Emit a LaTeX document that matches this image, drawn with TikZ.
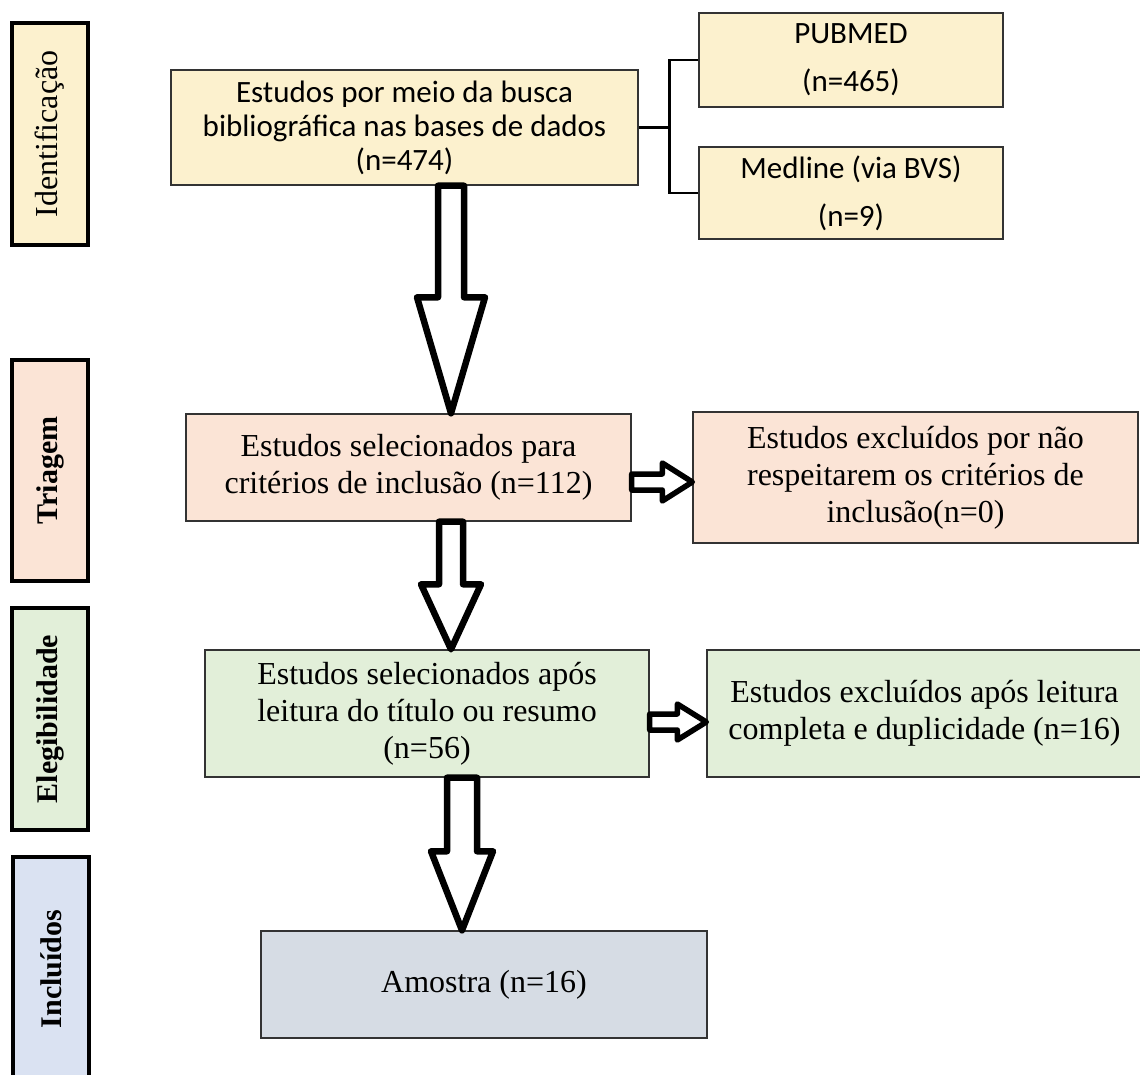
\documentclass[tikz,border=0pt]{standalone}
\usepackage{fontspec}
\usepackage{tikz}
\usetikzlibrary{calc,positioning}
\newfontfamily\calibri{Carlito}
\newfontfamily\timesrm{Liberation Serif}
\definecolor{idfill}{RGB}{252,241,206}
\definecolor{trifill}{RGB}{251,228,214}
\definecolor{elifill}{RGB}{226,239,217}
\definecolor{incfill}{RGB}{218,226,242}
\definecolor{amofill}{RGB}{214,220,228}
\tikzset{
  box/.style={draw=black!80, line width=1.4pt, align=center, inner sep=0pt},
  calbox/.style={box, font=\calibri\fontsize{31}{34}\selectfont},   % identification boxes
  srcbox/.style={box, font=\calibri\fontsize{31}{48}\selectfont},   % database boxes
  rmbox/.style={box, font=\timesrm\fontsize{32}{37}\selectfont},    % later stages
  stage/.style={draw, line width=3.5pt, rotate=90, minimum height=76pt, inner sep=0pt,
    font=\timesrm\bfseries\fontsize{30}{36}\selectfont},
  blockarrow/.style={draw, fill=white, line width=6.5pt, line join=round},
  sidearrow/.style={draw, fill=white, line width=5.5pt, line join=round},
  bracket/.style={line width=2.5pt}
}
% #1 x, #2 from node, #3 to node, #4 shaft half width, #5 head half width, #6 head length
\newcommand{\DownArrow}[6]{%
  \coordinate (ax) at (#1,0);
  \draw[blockarrow] let \p1=(ax |- #2.south), \p2=(ax |- #3.north) in
    ({\x1-#4pt},\y1) -- ({\x1-#4pt},{\y2+#6pt}) -- ({\x1-#5pt},{\y2+#6pt}) -- (\x1,\y2)
    -- ({\x1+#5pt},{\y2+#6pt}) -- ({\x1+#4pt},{\y2+#6pt}) -- ({\x1+#4pt},\y1) -- cycle;
}
% #1 y, #2 from node, #3 to node, #4 shaft half width, #5 head half width, #6 head length
\newcommand{\SideArrow}[6]{%
  \coordinate (ay) at (0,#1);
  \draw[sidearrow] let \p1=(#2.east |- ay), \p2=(#3.west |- ay) in
    (\x1,{\y1+#4pt}) -- ({\x2-#6pt},{\y1+#4pt}) -- ({\x2-#6pt},{\y1+#5pt}) -- (\x2,\y1)
    -- ({\x2-#6pt},{\y1-#5pt}) -- ({\x2-#6pt},{\y1-#4pt}) -- (\x1,{\y1-#4pt}) -- cycle;
}

\begin{document}
\begin{tikzpicture}[x=1pt, y=-1pt]
  \useasboundingbox (0,0) rectangle (1140,1075);
  % Stage labels
  \node[stage, fill=idfill, minimum width=222pt, font=\timesrm\fontsize{32}{36}\selectfont] (sId) at (50,134) {Identificação};
  \node[stage, fill=trifill, minimum width=221pt] (sTri) at (50,470.5) {Triagem};
  \node[stage, fill=elifill, minimum width=222pt] (sEli) at (50,719) {Elegibilidade};
  \node[stage, fill=incfill, minimum width=224pt] (sInc) at (51,969) {Incluídos};
  % Identification
  \node[calbox, fill=idfill, minimum width=467pt, minimum height=115pt] (id) at (404.5,127.5)
    {Estudos por meio da busca\\bibliográfica nas bases de dados\\(n=474)};
  \node[srcbox, fill=idfill, minimum width=304pt, minimum height=94pt] (pub) at (851,60)
    {PUBMED\\(n=465)};
  \node[srcbox, fill=idfill, minimum width=304pt, minimum height=92pt] (med) at (851,193)
    {Medline (via BVS)\\(n=9)};
  \draw[bracket] (id.east) -- ++(31,0) coordinate (br);
  \draw[bracket] (pub.west) -| (br) |- (med.west);
  % Screening
  \node[rmbox, fill=trifill, minimum width=445pt, minimum height=107pt] (tri) at (408.5,467.5)
    {Estudos selecionados para\\critérios de inclusão (n=112)};
  \node[rmbox, fill=trifill, minimum width=445pt, minimum height=131pt] (exc1) at (915.5,477.5)
    {Estudos excluídos por não\\respeitarem os critérios de\\inclusão(n=0)};
  % Eligibility
  \node[rmbox, fill=elifill, minimum width=444pt, minimum height=127pt] (eli) at (427,713.5)
    {Estudos selecionados após\\leitura do título ou resumo\\(n=56)};
  \node[rmbox, fill=elifill, minimum width=435pt, minimum height=127pt] (exc2) at (924.5,713.5)
    {Estudos excluídos após leitura\\completa e duplicidade (n=16)};
  % Included
  \node[rmbox, fill=amofill, minimum width=446pt, minimum height=107pt] (amo) at (484,984.5)
    {Amostra (n=16)};
  % Block arrows
  \DownArrow{451}{id}{tri}{13}{34}{116}
  \DownArrow{451}{tri}{eli}{12}{30}{65}
  \DownArrow{462}{eli}{amo}{15}{31}{79}
  \SideArrow{482}{tri}{exc1}{8}{19}{30}
  \SideArrow{722}{eli}{exc2}{8}{18}{29}
\end{tikzpicture}
\end{document}
